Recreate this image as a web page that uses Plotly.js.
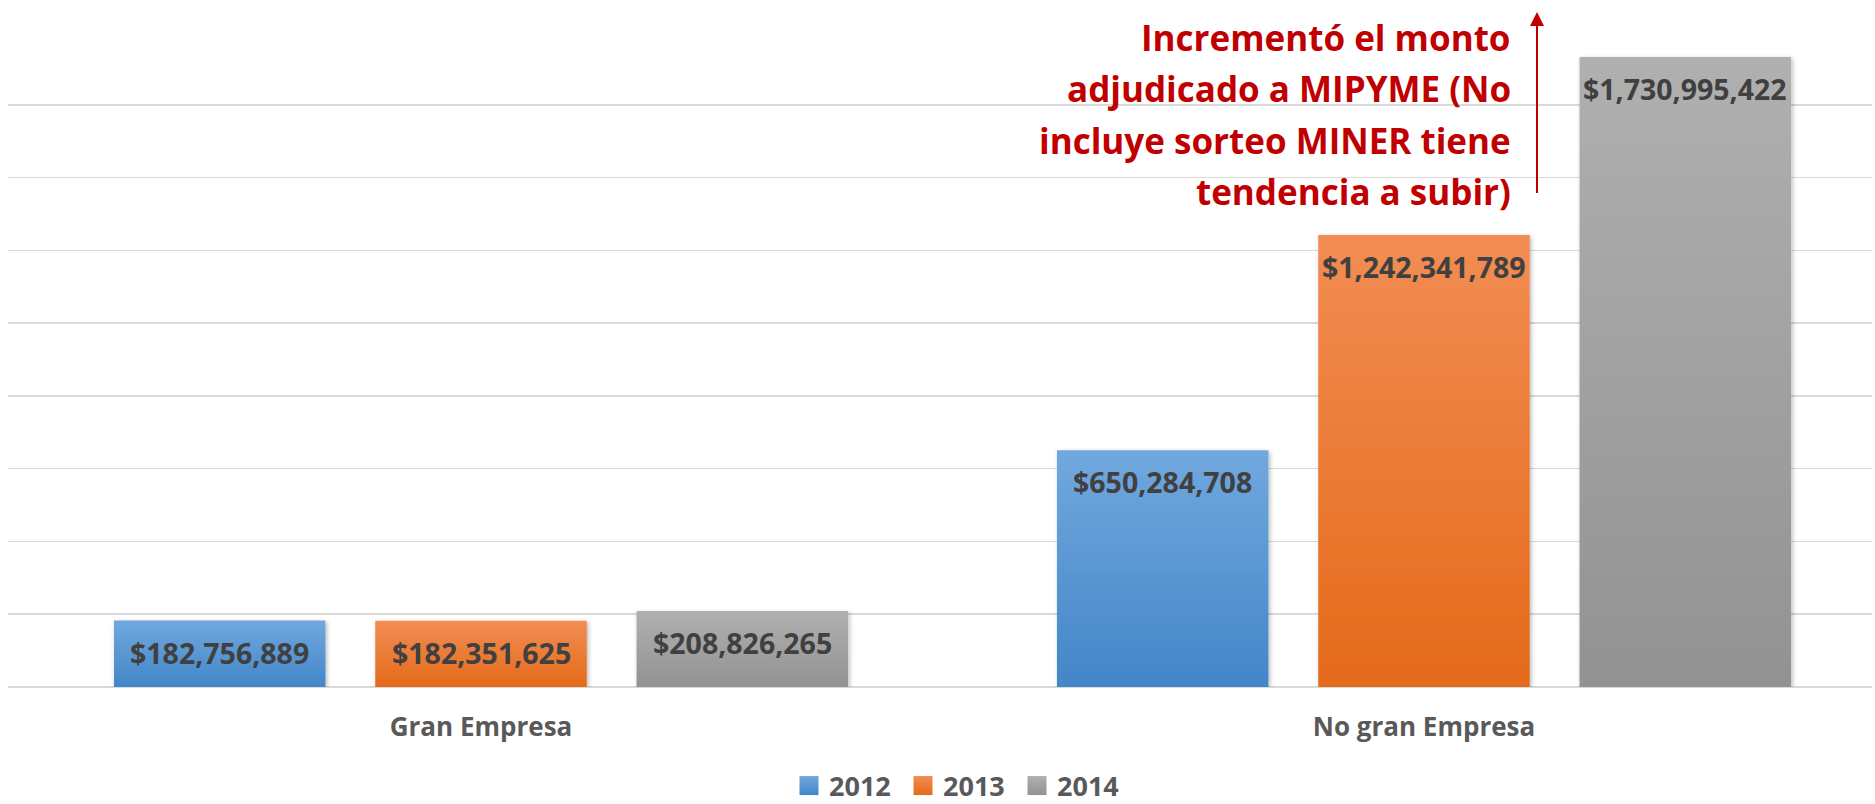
<!DOCTYPE html>
<html>
<head>
<meta charset="utf-8">
<script src="https://cdn.plot.ly/plotly-3.0.1.min.js"></script>
<style>html,body{margin:0;padding:0;background:#ffffff;}</style>
</head>
<body>
<div id="chart" style="width:1875px;height:804px;"></div>
<script>
// ---- data ----
const categories = ['Gran Empresa', 'No gran Empresa'];
const years = ['2012', '2013', '2014'];
const values2012 = [182756889, 650284708];
const values2013 = [182351625, 1242341789];
const values2014 = [208826265, 1730995422];
const noteLines = ['Incrementó el monto', 'adjudicado a MIPYME (No', 'incluye sorteo MINER tiene', 'tendencia a subir)'];

// ---- styles ----
const solidColors = ['#5b9bd5', '#ed7d31', '#a5a5a5'];
const gradColors = [['#71a8de', '#4386c8'], ['#f28d53', '#e46a1a'], ['#b0b0b0', '#929292']];
const FONT = 'Open Sans, Noto Sans, DejaVu Sans, sans-serif';

const W = 1875, H = 804;
const M = {l: 8, r: 3, t: 32, b: 117, autoexpand: false};
const plotW = W - M.l - M.r, plotH = H - M.t - M.b;
const px2px = x => (x - M.l) / plotW;          // pixel -> paper x
const py2py = y => (H - M.b - y) / plotH;       // pixel -> paper y
const BARGAP = 0.1687, BARGROUPGAP = 0.1906;

const series = [values2012, values2013, values2014];
const data = series.map((vals, i) => ({
  type: 'bar',
  name: years[i],
  x: categories,
  y: vals,
  marker: {color: solidColors[i]},
  hoverinfo: 'skip'
}));

// value labels, placed at each bar's own (category, value) point
const slot = (1 - BARGAP) / series.length;
const annotations = [];
series.forEach((vals, i) => {
  vals.forEach((v, c) => {
    annotations.push({
      xref: 'x', yref: 'y',
      x: c + (i - (series.length - 1) / 2) * slot, y: v,
      xanchor: 'center', yanchor: 'middle', yshift: -32,
      text: '$' + v.toLocaleString('en-US'), showarrow: false,
      font: {family: FONT, size: 28.5, color: '#404040', weight: 700}
    });
  });
});

noteLines.forEach((t, i) => annotations.push({
  xref: 'paper', yref: 'paper',
  x: px2px(1513), y: py2py(38 + i * 51),
  xanchor: 'right', yanchor: 'middle',
  text: t, showarrow: false, align: 'right',
  font: {family: FONT, size: 35, color: '#c00000', weight: 700}
}));
annotations.push({
  xref: 'paper', yref: 'paper',
  x: px2px(1537), y: py2py(12),
  ax: 0, ay: 191, axref: 'pixel', ayref: 'pixel',
  text: ' ', showarrow: true,
  arrowhead: 2, arrowsize: 1.4, arrowwidth: 2, arrowcolor: '#c00000'
});

const layout = {
  width: W, height: H,
  margin: M,
  paper_bgcolor: '#ffffff', plot_bgcolor: '#ffffff',
  barmode: 'group',
  bargap: BARGAP,
  bargroupgap: BARGROUPGAP,
  showlegend: true,
  legend: {
    orientation: 'h', x: px2px(960), xanchor: 'center', y: py2py(786), yanchor: 'middle',
    font: {family: FONT, size: 27, color: '#595959', weight: 700},
    traceorder: 'normal', itemwidth: 30,
    entrywidth: 69, entrywidthmode: 'pixels'
  },
  xaxis: {
    type: 'category',
    range: [-0.5016, 1.4751],
    showgrid: false, zeroline: false, showline: false,
    ticks: '', ticklabelstandoff: 22,
    tickfont: {family: FONT, size: 26, color: '#595959', weight: 700}
  },
  yaxis: {
    range: [0, 1800000000],
    dtick: 200000000,
    showticklabels: false,
    showgrid: true, gridcolor: '#d9d9d9', gridwidth: 1.5,
    zeroline: true, zerolinecolor: '#d9d9d9', zerolinewidth: 1.5,
    showline: false, ticks: ''
  },
  annotations: annotations
};

Plotly.newPlot('chart', data, layout, {staticPlot: true, displayModeBar: false}).then(gd => {
  const NS = 'http://www.w3.org/2000/svg';
  const svg = gd.querySelector('.main-svg');
  let defs = svg.querySelector('defs');
  if (!defs) { defs = document.createElementNS(NS, 'defs'); svg.insertBefore(defs, svg.firstChild); }
  gradColors.forEach((c, i) => {
    const lg = document.createElementNS(NS, 'linearGradient');
    lg.setAttribute('id', 'barGrad' + i);
    lg.setAttribute('x1', '0'); lg.setAttribute('y1', '0');
    lg.setAttribute('x2', '0'); lg.setAttribute('y2', '1');
    [[0, c[0]], [1, c[1]]].forEach(s => {
      const st = document.createElementNS(NS, 'stop');
      st.setAttribute('offset', s[0]);
      st.setAttribute('stop-color', s[1]);
      lg.appendChild(st);
    });
    defs.appendChild(lg);
  });
  const f = document.createElementNS(NS, 'filter');
  f.setAttribute('id', 'barShadow');
  f.setAttribute('x', '-10%'); f.setAttribute('y', '-10%');
  f.setAttribute('width', '125%'); f.setAttribute('height', '125%');
  const ds = document.createElementNS(NS, 'feDropShadow');
  ds.setAttribute('dx', '1.5'); ds.setAttribute('dy', '1.5');
  ds.setAttribute('stdDeviation', '2'); ds.setAttribute('flood-color', '#000');
  ds.setAttribute('flood-opacity', '0.28');
  f.appendChild(ds);
  defs.appendChild(f);
  gd.querySelectorAll('.barlayer .trace').forEach((t, i) => {
    t.querySelectorAll('path').forEach(p => {
      p.style.fill = 'url(#barGrad' + i + ')';
      p.setAttribute('filter', 'url(#barShadow)');
    });
  });
  gd.querySelectorAll('.legend .traces').forEach((t, i) => {
    t.querySelectorAll('.legendpoints path').forEach(p => {
      p.setAttribute('d', 'M9.5,9.5H-9.5V-9.5H9.5Z');
      p.style.fill = 'url(#barGrad' + i + ')';
    });
  });
});
</script>
</body>
</html>
